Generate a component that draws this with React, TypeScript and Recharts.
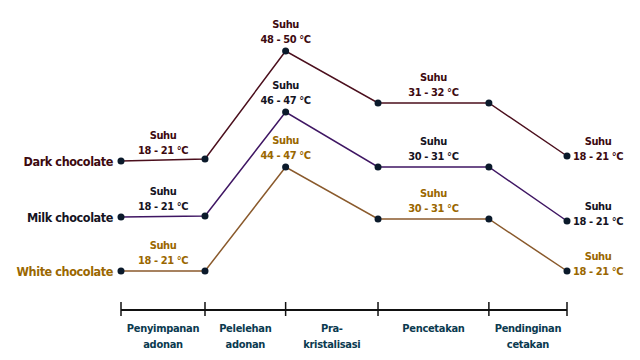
import { LineChart, Line, XAxis, YAxis } from "recharts";

// stage boundaries along the process (relative time position)
const stageBounds = [0, 1, 1.96, 3.06, 4.38, 5.31];
const stageNames = [
  ["Penyimpanan", "adonan"],
  ["Pelelehan", "adonan"],
  ["Pra-", "kristalisasi"],
  ["Pencetakan"],
  ["Pendinginan", "cetakan"],
];

// schematic temperature level of each chocolate at each boundary
const darkLevel = [14.9, 15.1, 25.9, 20.7, 20.7, 15.4];
const milkLevel = [9.3, 9.4, 19.8, 14.3, 14.3, 8.9];
const whiteLevel = [3.9, 3.9, 14.3, 9.1, 9.1, 3.9];

// temperature labels ("" = no label at that point)
const darkTemps = ["18 - 21 °C", "", "48 - 50 °C", "31 - 32 °C", "", "18 - 21 °C"];
const milkTemps = ["18 - 21 °C", "", "46 - 47 °C", "30 - 31 °C", "", "18 - 21 °C"];
const whiteTemps = ["18 - 21 °C", "", "44 - 47 °C", "30 - 31 °C", "", "18 - 21 °C"];

// where each label sits: over the next segment, above the point, right of the point
const labelPlace = ["segment", "", "above", "segment", "", "right"];

const data = stageBounds.map((x, i) => ({
  x,
  dark: darkLevel[i],
  milk: milkLevel[i],
  white: whiteLevel[i],
}));

const midpoints = stageBounds.slice(1).map((b, i) => (stageBounds[i] + b) / 2);

const FONT = "'DejaVu Sans Condensed', sans-serif";

const makeDot = (name: string, temps: string[], textColor: string) => (p: any) => {
  const { cx, cy, index, points } = p;
  const place = labelPlace[index];
  const temp = temps[index];
  let label = null;
  if (temp && place) {
    let tx = cx;
    let y1 = cy - 23;
    let y2 = cy - 8;
    if (place === "segment" && points && points[index + 1]) {
      tx = (cx + points[index + 1].x) / 2;
      y1 = cy - 22;
      y2 = cy - 7;
    }
    if (place === "right") {
      tx = cx + 31;
      y1 = cy - 11;
      y2 = cy + 4;
    }
    label = (
      <text textAnchor="middle" fill={textColor} fontSize={11} letterSpacing={-0.4} fontWeight="bold" fontFamily={FONT}>
        <tspan x={tx} y={y1}>Suhu</tspan>
        <tspan x={tx} y={y2}>{temp}</tspan>
      </text>
    );
  }
  return (
    <g key={`dot-${name}-${index}`}>
      {index === 0 && (
        <text x={cx - 8} y={cy + 5} textAnchor="end" fill={textColor} fontSize={12.5} letterSpacing={-0.4} fontWeight="bold" fontFamily={FONT}>
          {name}
        </text>
      )}
      {label}
      <circle cx={cx} cy={cy} r={3.5} fill="#0b1a2b" />
    </g>
  );
};

const StageTick = (p: any) => (
  <line x1={p.x} x2={p.x} y1={p.y - 8} y2={p.y + 6} stroke="#111" strokeWidth={1.5} />
);

const NameTick = (p: any) => {
  const lines = stageNames[p.index] || [];
  return (
    <text textAnchor="middle" fill="#0b3a4f" fontSize={11} letterSpacing={-0.3} fontWeight="bold" fontFamily={FONT}>
      {lines.map((l, i) => (
        <tspan key={i} x={p.x} y={p.y + 10 + i * 16}>{l}</tspan>
      ))}
    </text>
  );
};

export default function App() {
  return (
    <div style={{ position: "absolute", left: 0, top: 0, width: 640, height: 360, background: "#fff" }}>
      <LineChart width={640} height={360} data={data} margin={{ top: 10, right: 73, left: 121, bottom: 0 }}>
        <YAxis hide domain={[0, 30]} />
        <XAxis
          xAxisId="a_stage"
          dataKey="x"
          type="number"
          domain={[0, 5.31]}
          ticks={stageBounds}
          interval={0}
          height={12}
          axisLine={{ stroke: "#111", strokeWidth: 2 }}
          tickLine={false}
          tickSize={0}
          tickMargin={0}
          tick={<StageTick />}
        />
        <XAxis
          xAxisId="b_names"
          dataKey="x"
          type="number"
          domain={[0, 5.31]}
          ticks={midpoints}
          interval={0}
          height={38}
          axisLine={false}
          tickLine={false}
          tickSize={0}
          tickMargin={0}
          tick={<NameTick />}
        />
        <Line
          xAxisId="a_stage"
          dataKey="dark"
          type="linear"
          stroke="#4b0f1d"
          strokeWidth={1.5}
          dot={makeDot("Dark chocolate", darkTemps, "#3d0a10")}
          isAnimationActive={false}
        />
        <Line
          xAxisId="a_stage"
          dataKey="milk"
          type="linear"
          stroke="#3f1663"
          strokeWidth={1.5}
          dot={makeDot("Milk chocolate", milkTemps, "#16141f")}
          isAnimationActive={false}
        />
        <Line
          xAxisId="a_stage"
          dataKey="white"
          type="linear"
          stroke="#8a5a2c"
          strokeWidth={1.5}
          dot={makeDot("White chocolate", whiteTemps, "#9a6700")}
          isAnimationActive={false}
        />
      </LineChart>
    </div>
  );
}
